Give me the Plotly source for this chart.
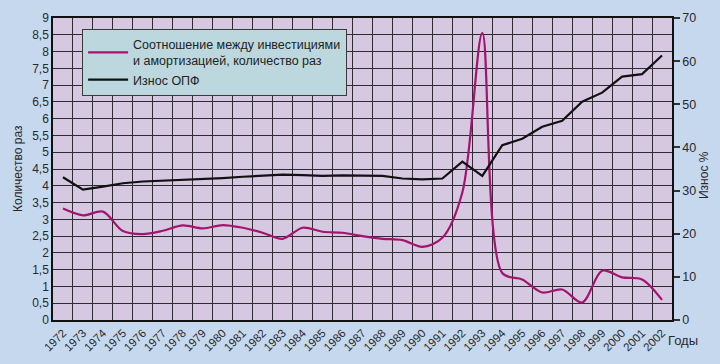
import plotly.graph_objects as go

years = ["1972", "1973", "1974", "1975", "1976", "1977", "1978", "1979", "1980",
         "1981", "1982", "1983", "1984", "1985", "1986", "1987", "1988", "1989",
         "1990", "1991", "1992", "1993", "1994", "1995", "1996", "1997", "1998",
         "1999", "2000", "2001", "2002"]

ratio = [3.32, 3.12, 3.23, 2.65, 2.56, 2.66, 2.82, 2.73, 2.83, 2.75, 2.60,
         2.42, 2.75, 2.63, 2.60, 2.50, 2.42, 2.38, 2.18, 2.45, 3.80, 8.55,
         1.40, 1.21, 0.82, 0.91, 0.52, 1.47, 1.27, 1.21, 0.60]

wear = [33.1, 30.2, 30.9, 31.7, 32.1, 32.3, 32.4, 32.7, 32.9, 33.2, 33.5,
        33.7, 33.6, 33.4, 33.5, 33.5, 33.4, 32.8, 32.6, 32.8, 36.7, 33.4,
        40.5, 42.0, 44.8, 46.2, 50.6, 52.7, 56.4, 57.0, 61.3]

left_vals = [0, 0.5, 1, 1.5, 2, 2.5, 3, 3.5, 4, 4.5, 5, 5.5, 6, 6.5, 7, 7.5, 8, 8.5, 9]
left_text = ["0", "0,5", "1", "1,5", "2", "2,5", "3", "3,5", "4", "4,5", "5",
             "5,5", "6", "6,5", "7", "7,5", "8", "8,5", "9"]
right_vals = [0, 10, 20, 30, 40, 50, 60, 70]

name_ratio = "Соотношение между инвестициями<br>и амортизацией, количество раз"
name_wear = "Износ ОПФ"

FONT = "Liberation Sans, Arial, sans-serif"
GRID = "#2e2b33"
TXT = "#2a2a2a"

fig = go.Figure()
fig.add_trace(go.Scatter(
    x=years, y=ratio, name=name_ratio, mode="lines",
    line=dict(color="#a3146f", width=2.2, shape="spline", smoothing=0.9),
    yaxis="y"))
fig.add_trace(go.Scatter(
    x=years, y=wear, name=name_wear, mode="lines",
    line=dict(color="#111111", width=2.2),
    yaxis="y2"))

fig.update_layout(
    width=720, height=364,
    margin=dict(l=53, r=48, t=18, b=44),
    paper_bgcolor="#c6d8ee",
    plot_bgcolor="#d6c8e0",
    font=dict(family=FONT, size=12, color=TXT),
    showlegend=True,
    legend=dict(
        x=0.047, y=0.965, xanchor="left", yanchor="top",
        bgcolor="#bcd8de", bordercolor="#3a3a3a", borderwidth=1,
        font=dict(family=FONT, size=12.5, color="#222222"),
        tracegroupgap=4, itemwidth=40,
    ),
    xaxis=dict(
        type="category", tickson="boundaries", automargin=False,
        range=[-0.5, 30.5],
        showgrid=True, gridcolor=GRID, gridwidth=1,
        showline=True, linecolor="#111111", linewidth=1.5, mirror=True,
        ticks="", tickangle=-45,
        tickfont=dict(family=FONT, size=11.5, color=TXT),
        zeroline=False,
    ),
    yaxis=dict(
        range=[0, 9], tickvals=left_vals, ticktext=left_text, automargin=False,
        showgrid=True, gridcolor=GRID, gridwidth=1,
        showline=True, linecolor="#111111", linewidth=1.5,
        ticks="", zeroline=False,
        tickfont=dict(family=FONT, size=12, color=TXT),
    ),
    yaxis2=dict(
        overlaying="y", side="right", range=[0, 70], tickvals=right_vals,
        automargin=False,
        showgrid=False, zeroline=False,
        showline=True, linecolor="#111111", linewidth=1.5,
        ticks="outside", ticklen=6, tickcolor="#333333", tickwidth=1.5,
        tickfont=dict(family=FONT, size=12.5, color=TXT),
    ),
    annotations=[
        dict(text="Годы", xref="paper", yref="paper", x=1.0, y=-0.035,
             xanchor="left", yanchor="top", showarrow=False, xshift=-6,
             font=dict(family=FONT, size=13, color=TXT)),
        dict(text="Износ %", xref="paper", yref="paper", x=1.0, y=0.48,
             xanchor="center", yanchor="middle", showarrow=False, xshift=32,
             textangle=-90, font=dict(family=FONT, size=12, color=TXT)),
        dict(text="Количество раз", xref="paper", yref="paper", x=0.0, y=0.5,
             xanchor="center", yanchor="middle", showarrow=False, xshift=-35,
             textangle=-90, font=dict(family=FONT, size=12, color=TXT)),
    ],
)

fig.write_html("out.html", config={"displayModeBar": False},
               post_script="document.body.style.margin='0px';")
